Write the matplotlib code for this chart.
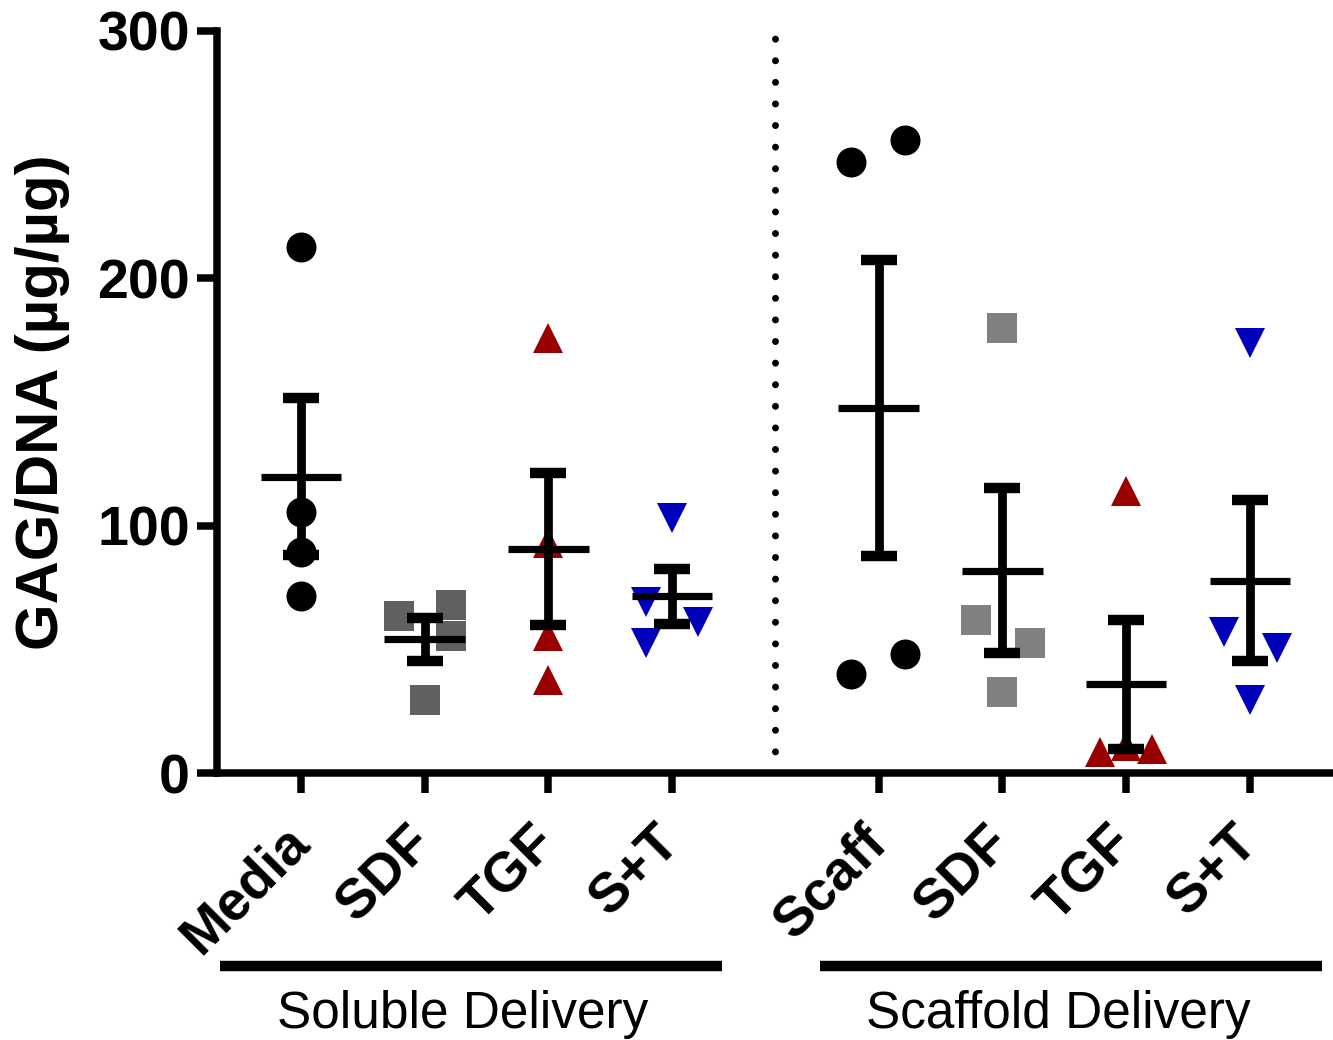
import numpy as np
import matplotlib
matplotlib.use("Agg")
import matplotlib.pyplot as plt
import matplotlib.transforms as mtransforms

plt.rcParams['font.family'] = ['Liberation Sans', 'DejaVu Sans']

# group names (tick labels) and positions on the x axis
labels = ["Media", "SDF", "TGF", "S+T", "Scaff", "SDF", "TGF", "S+T"]
xpos = [1, 2, 3, 4, 5.67, 6.67, 7.67, 8.67]

# GAG/DNA values (4 replicates per group)
sol_media = [212.7, 105.6, 89.3, 71.5]
sol_sdf = [63.6, 67.8, 55.2, 29.5]
sol_tgf = [176.0, 93.0, 55.5, 37.8]
sol_st = [103.2, 69.0, 60.9, 52.5]
scf_scaff = [247.0, 255.8, 39.9, 48.0]
scf_sdf = [180.0, 61.7, 52.5, 32.9]
scf_tgf = [114.1, 8.6, 9.9, 11.0]
scf_st = [173.8, 57.0, 50.5, 29.5]

# horizontal scatter of the replicate points
jit_media = [0, 0, 0, 0]
jit_sdf = [-0.21, 0.21, 0.21, 0]
jit_tgf = [0, 0, 0, 0]
jit_st = [0, -0.21, 0.21, -0.21]
jit_scaff = [-0.22, 0.21, -0.22, 0.21]
jit_sdf2 = [0, -0.21, 0.22, 0]
jit_tgf2 = [0, -0.21, 0.21, 0]
jit_st2 = [0, -0.21, 0.22, 0]

groups = [sol_media, sol_sdf, sol_tgf, sol_st, scf_scaff, scf_sdf, scf_tgf, scf_st]
jitters = [jit_media, jit_sdf, jit_tgf, jit_st, jit_scaff, jit_sdf2, jit_tgf2, jit_st2]
markers = ["o", "s", "^", "v", "o", "s", "^", "v"]
colors = ["black", "#606060", "#9b0000", "#0000bb", "black", "#808080", "#9b0000", "#0000bb"]

fig = plt.figure(figsize=(13.33, 10.4), dpi=100)
ax = fig.add_axes([0.1628, 0.2567, 1.0 - 0.1628, 0.9702 - 0.2567])

for x, vals, jit, m, c in zip(xpos, groups, jitters, markers, colors):
    vals = np.array(vals)
    ax.plot(x + np.array(jit), vals, m, color=c, ms=21.6, mew=0, zorder=2,
            clip_on=False)
    mean = vals.mean()
    sem = vals.std(ddof=1) / np.sqrt(len(vals))
    ax.errorbar(x, mean, yerr=sem, fmt='none', ecolor='black', elinewidth=6.3,
                capsize=13, capthick=7.5, zorder=3)
    ax.hlines(mean, x - 0.325, x + 0.325, color='black', lw=5.2, zorder=3)

# dotted separator
ax.axvline(4.83, color='black', lw=5, linestyle=(0, (0.01, 3.1)),
           dash_capstyle='round', zorder=1)

ax.set_xlim(0.321, 9.343)
ax.set_ylim(0, 300)
ax.set_yticks([0, 100, 200, 300])
ax.set_xticks(xpos)
ax.set_xticklabels(labels, rotation=45, ha='right', va='center',
                   rotation_mode='anchor', fontsize=40, fontweight='bold')
shift = mtransforms.ScaledTranslation(6 / 100, 3 / 100, fig.dpi_scale_trans)
for t in ax.get_xticklabels():
    t.set_transform(t.get_transform() + shift)
for t in ax.get_yticklabels():
    t.set_fontsize(40)
    t.set_fontweight('bold')

for s in ['top', 'right']:
    ax.spines[s].set_visible(False)
for s in ['left', 'bottom']:
    ax.spines[s].set_linewidth(5.4)
ax.tick_params(direction='out', length=14.4, width=5.4, pad=5)
ax.tick_params(axis='x', pad=30)

ax.set_ylabel("GAG/DNA (µg/µg)", fontsize=43, fontweight='bold')
ax.yaxis.set_label_coords(-0.132, 0.5)

# group brackets under the axis
tr = ax.get_xaxis_transform()
ax.plot([0.345, 4.40], [-0.260, -0.260], color='black', lw=7.5,
        solid_capstyle='butt', transform=tr, clip_on=False)
ax.plot([5.196, 9.254], [-0.260, -0.260], color='black', lw=7.5,
        solid_capstyle='butt', transform=tr, clip_on=False)
ax.text(2.31, -0.325, "Soluble Delivery", fontsize=37, ha='center',
        va='center', transform=tr)
ax.text(7.12, -0.325, "Scaffold Delivery", fontsize=37, ha='center',
        va='center', transform=tr)

fig.savefig("out.png", dpi=100)
